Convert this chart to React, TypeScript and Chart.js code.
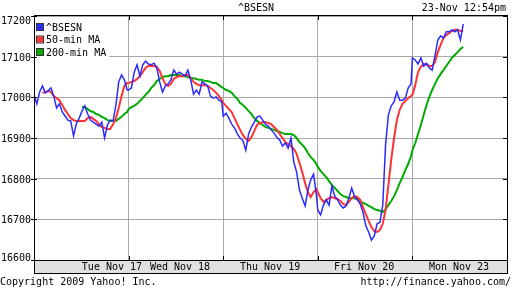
import React, { useEffect, useRef } from 'react';
import { Chart, registerables } from 'chart.js';

Chart.register(...registerables);

// ---- data ----
const title = '^BSESN';
const timestamp = '23-Nov 12:54pm';
const copyright = 'Copyright 2009 Yahoo! Inc.';
const sourceUrl = 'http://finance.yahoo.com/';

const dayLabels = ['Tue Nov 17', 'Wed Nov 18', 'Thu Nov 19', 'Fri Nov 20', 'Mon Nov 23'];
// where each day label sits, in trading minutes from the start of the window
const dayLabelAt = [276, 517, 836, 1169, 1505];
const sessionMinutes = 335; // 9:55 - 15:30
const sampleStep = 10; // minutes between samples
const yTickValues = [16600, 16700, 16800, 16900, 17000, 17100, 17200];

const seriesNames = ['^BSESN', '50-min MA', '200-min MA'];

const sensexTue = [17006, 16984, 17013, 17028, 17011, 17016, 17023, 17003, 16974, 16984, 16964, 16954, 16944, 16942, 16905, 16935, 16949, 16966, 16979, 16959, 16944, 16939, 16934, 16929, 16939, 16900, 16932, 16944, 16942, 16981, 17038, 17055, 17043, 17018];
const sensexWed = [17018, 17023, 17062, 17080, 17052, 17080, 17089, 17082, 17080, 17084, 17072, 17038, 17013, 17028, 17033, 17043, 17067, 17057, 17062, 17057, 17052, 17067, 17043, 17008, 17018, 17008, 17038, 17033, 17028, 17003, 16998, 17001, 16993, 16989];
const sensexThu = [16954, 16961, 16949, 16934, 16925, 16910, 16900, 16893, 16870, 16910, 16927, 16939, 16952, 16954, 16944, 16934, 16929, 16920, 16912, 16902, 16895, 16880, 16888, 16875, 16900, 16841, 16816, 16772, 16752, 16733, 16772, 16797, 16811, 16760];
const sensexFri = [16723, 16711, 16735, 16748, 16735, 16782, 16757, 16748, 16735, 16728, 16733, 16752, 16777, 16757, 16748, 16738, 16718, 16684, 16669, 16649, 16659, 16689, 16693, 16735, 16883, 16957, 16979, 16989, 17013, 16993, 16993, 16998, 17023, 17033];
const sensexMon = [17097, 17092, 17082, 17097, 17077, 17084, 17072, 17067, 17102, 17141, 17151, 17146, 17161, 17161, 17166, 17161, 17166, 17141, 17180];

const ma50Tue = [null, null, null, 17011, 17013, 17016, 17013, 17003, 16998, 16993, 16981, 16969, 16959, 16949, 16944, 16942, 16942, 16942, 16942, 16949, 16952, 16947, 16942, 16934, 16927, 16925, 16922, 16922, 16934, 16949, 16974, 17003, 17028, 17035];
const ma50Wed = [17035, 17038, 17040, 17045, 17052, 17062, 17072, 17077, 17077, 17077, 17075, 17065, 17047, 17033, 17028, 17033, 17045, 17050, 17052, 17052, 17055, 17055, 17047, 17038, 17033, 17030, 17030, 17030, 17028, 17023, 17018, 17011, 17003, 16993];
const ma50Thu = [16986, 16979, 16971, 16964, 16949, 16934, 16920, 16907, 16898, 16893, 16902, 16917, 16932, 16937, 16939, 16939, 16937, 16934, 16927, 16920, 16910, 16900, 16890, 16885, 16880, 16873, 16861, 16839, 16816, 16789, 16767, 16755, 16767, 16774];
const ma50Fri = [16767, 16752, 16743, 16748, 16752, 16755, 16752, 16750, 16745, 16738, 16735, 16743, 16752, 16757, 16755, 16748, 16730, 16713, 16696, 16681, 16671, 16669, 16674, 16689, 16723, 16784, 16846, 16900, 16944, 16969, 16984, 16991, 16998, 17003];
const ma50Mon = [17006, 17030, 17062, 17075, 17082, 17080, 17077, 17077, 17087, 17111, 17129, 17146, 17153, 17158, 17163, 17166, 17166, 17163, 17163];

const ma200Tue = [null, null, null, null, null, null, null, null, null, null, null, null, null, null, null, null, null, 16976, 16976, 16971, 16966, 16964, 16959, 16957, 16952, 16949, 16944, 16942, 16942, 16942, 16947, 16952, 16959, 16964];
const ma200Wed = [16971, 16976, 16979, 16984, 16991, 16998, 17006, 17013, 17023, 17030, 17040, 17045, 17050, 17052, 17052, 17055, 17055, 17055, 17055, 17052, 17052, 17050, 17047, 17047, 17045, 17043, 17043, 17040, 17040, 17038, 17035, 17035, 17030, 17025];
const ma200Thu = [17023, 17018, 17016, 17011, 17003, 16996, 16986, 16981, 16974, 16966, 16959, 16949, 16942, 16937, 16932, 16927, 16925, 16922, 16920, 16917, 16915, 16912, 16910, 16910, 16910, 16907, 16900, 16890, 16883, 16875, 16863, 16853, 16846, 16836];
const ma200Fri = [16829, 16819, 16811, 16804, 16794, 16784, 16777, 16770, 16762, 16757, 16755, 16752, 16752, 16752, 16750, 16745, 16740, 16738, 16733, 16730, 16725, 16723, 16721, 16718, 16725, 16735, 16745, 16757, 16772, 16789, 16804, 16821, 16836, 16855];
const ma200Mon = [16870, 16887, 16910, 16932, 16957, 16981, 17001, 17018, 17033, 17047, 17057, 17067, 17077, 17087, 17097, 17104, 17111, 17119, 17124];

// ---- build library-ready points ----
function toPoints(days: (number | null)[][]) {
  const pts: { x: number; y: number | null }[] = [];
  days.forEach((vals, d) => {
    vals.forEach((v, k) => {
      pts.push({ x: d * sessionMinutes + k * sampleStep, y: v });
    });
  });
  return pts;
}

const FONT = '10px "DejaVu Sans Mono", "Liberation Mono", monospace';
const COLORS = ['#2b2bff', '#ff3333', '#00aa00'];
const GRID = '#a8a8a8';

const yahooPlugin = {
  id: 'yahooDecor',
  beforeDatasetsDraw(chart: any) {
    const { ctx, chartArea } = chart;
    ctx.save();
    // legend box
    ctx.fillStyle = '#ffffff';
    ctx.fillRect(chartArea.left + 1, chartArea.top + 1, 74, 44);
    ctx.font = FONT;
    ctx.textBaseline = 'middle';
    ctx.textAlign = 'left';
    chart.data.datasets.forEach((ds: any, i: number) => {
      const cy = chartArea.top + 11 + i * 12.5;
      ctx.fillStyle = ds.borderColor;
      ctx.fillRect(chartArea.left + 3, cy - 3, 6, 6);
      ctx.strokeStyle = '#333333';
      ctx.lineWidth = 1;
      ctx.strokeRect(chartArea.left + 2.5, cy - 3.5, 7, 7);
      ctx.fillStyle = '#000000';
      ctx.fillText(ds.label, chartArea.left + 12, cy + 1);
    });
    ctx.restore();
  },
  afterDraw(chart: any) {
    const { ctx, chartArea, scales } = chart;
    const { left, right, top, bottom } = chartArea;
    const xs = scales.x;
    const ys = scales.y;
    ctx.save();
    ctx.font = FONT;
    ctx.fillStyle = '#000000';
    ctx.strokeStyle = '#000000';
    ctx.lineWidth = 1;

    // date band
    const bandH = 13;
    ctx.fillStyle = '#e0e0e0';
    ctx.fillRect(left, bottom, right - left, bandH);
    ctx.strokeRect(left + 0.5, bottom + 0.5, right - left, bandH);

    // frame
    ctx.strokeRect(left + 0.5, top - 0.5, right - left, bottom - top + 1);

    // y ticks and labels
    ctx.fillStyle = '#000000';
    ctx.textAlign = 'right';
    ctx.textBaseline = 'middle';
    ys.ticks.forEach((t: any) => {
      const y = Math.round(ys.getPixelForValue(t.value)) + 0.5;
      ctx.beginPath();
      ctx.moveTo(left - 3, y);
      ctx.lineTo(left + 3, y);
      ctx.moveTo(right - 4, y);
      ctx.lineTo(right + 1, y);
      ctx.stroke();
      const ly = Math.min(Math.max(y, top + 4), bottom - 3);
      ctx.fillText(String(t.value), left - 3, ly + 1);
    });

    // x ticks at day boundaries
    xs.ticks.forEach((t: any) => {
      const x = Math.round(xs.getPixelForValue(t.value)) + 0.5;
      ctx.beginPath();
      ctx.moveTo(x, top);
      ctx.lineTo(x, top + 4);
      ctx.moveTo(x, bottom - 4);
      ctx.lineTo(x, bottom);
      ctx.stroke();
    });

    // day labels in band
    ctx.textAlign = 'center';
    dayLabels.forEach((lab, i) => {
      const x = xs.getPixelForValue(dayLabelAt[i]);
      ctx.fillText(lab, x, bottom + 7.5);
    });

    // titles
    const W = chart.width;
    ctx.textAlign = 'center';
    ctx.fillText(title, W / 2, 8);
    ctx.textAlign = 'right';
    ctx.fillText(timestamp, W - 6, 8);

    // footer
    ctx.textAlign = 'left';
    ctx.fillText(copyright, 0, 282);
    ctx.textAlign = 'right';
    ctx.fillText(sourceUrl, W - 1, 282);
    ctx.restore();
  },
};

export default function App() {
  const ref = useRef<HTMLCanvasElement | null>(null);

  useEffect(() => {
    if (!ref.current) return;
    const dayBoundaries = [1, 2, 3, 4].map((d) => d * sessionMinutes);
    const chart = new Chart(ref.current, {
      type: 'line',
      data: {
        datasets: [
          {
            label: seriesNames[0],
            data: toPoints([sensexTue, sensexWed, sensexThu, sensexFri, sensexMon]),
            borderColor: COLORS[0],
            borderWidth: 1.5,
            pointRadius: 0,
            tension: 0,
          },
          {
            label: seriesNames[1],
            data: toPoints([ma50Tue, ma50Wed, ma50Thu, ma50Fri, ma50Mon]),
            borderColor: COLORS[1],
            borderWidth: 2,
            pointRadius: 0,
            tension: 0,
          },
          {
            label: seriesNames[2],
            data: toPoints([ma200Tue, ma200Wed, ma200Thu, ma200Fri, ma200Mon]),
            borderColor: COLORS[2],
            borderWidth: 2,
            pointRadius: 0,
            tension: 0,
          },
        ] as any,
      },
      options: {
        animation: false,
        responsive: false,
        devicePixelRatio: 1,
        layout: { padding: { top: 16, right: 5, left: 0, bottom: 0 } },
        plugins: {
          legend: { display: false },
          tooltip: { enabled: false },
          title: { display: false },
        },
        scales: {
          x: {
            type: 'linear',
            min: 0,
            max: 5 * sessionMinutes,
            afterBuildTicks: (s: any) => {
              s.ticks = dayBoundaries.map((v) => ({ value: v }));
            },
            ticks: { display: false },
            grid: { color: GRID, drawTicks: false, lineWidth: 1 },
            border: { display: false },
            afterFit: (s: any) => {
              s.height = 28;
            },
          },
          y: {
            type: 'linear',
            min: yTickValues[0],
            max: yTickValues[yTickValues.length - 1],
            afterBuildTicks: (s: any) => {
              s.ticks = yTickValues.map((v) => ({ value: v }));
            },
            ticks: { display: false },
            grid: { color: GRID, drawTicks: false, lineWidth: 1 },
            border: { display: false },
            afterFit: (s: any) => {
              s.width = 34;
            },
          },
        },
      } as any,
      plugins: [yahooPlugin],
    });
    return () => chart.destroy();
  }, []);

  return (
    <div style={{ position: 'absolute', left: 0, top: 0, width: 512, height: 288, background: '#fff' }}>
      <canvas ref={ref} width={512} height={288} style={{ display: 'block' }} />
    </div>
  );
}
